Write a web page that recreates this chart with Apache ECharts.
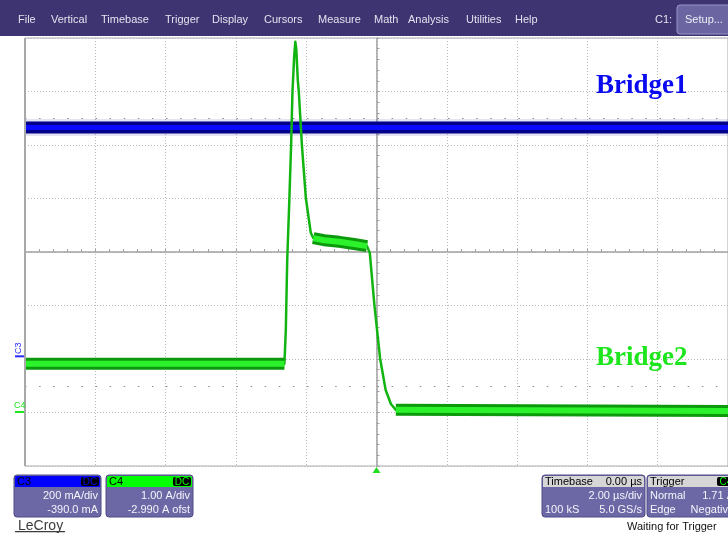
<!DOCTYPE html>
<html>
<head>
<meta charset="utf-8">
<script src="https://cdn.jsdelivr.net/npm/echarts@6/dist/echarts.min.js"></script>
<style>
html,body{margin:0;padding:0;background:#fff;overflow:hidden}
#main{width:728px;height:533px}
</style>
</head>
<body>
<div id="main"></div>
<script>
// ---- Timebase: 2.00 µs/div, trigger at 0 µs ----
const timeMin = -10;
const timeMax = 10;
const timePerDiv = 2;
const halfDivs = 4;

// ---- C3 (Bridge1): 200 mA/div, -390.0 mA offset ----
const c3PerDiv = 200;
const c3Offset = -390;
const c3Time = [-10, 10];
const c3mA = [855, 855];

// ---- C4 (Bridge2): 1.00 A/div, -2.990 A offset ----
const c4PerDiv = 1.0;
const c4Offset = -2.99;
const c4Time = [-10, -2.62, -2.58, -2.54, -2.48, -2.43, -2.39, -2.34, -2.31, -2.28, -2.24, -2.21,
                -2.12, -2.01, -1.87, -1.80, -1.49, -1.06, -0.64, -0.27, -0.19, -0.06, 0.10, 0.26,
                0.41, 0.55, 10];
const c4Amps = [0.90, 0.90, 1.53, 2.84, 3.96, 4.97, 6.00, 6.67, 6.92, 6.77, 6.21, 5.98,
                4.97, 4.00, 3.35, 3.25, 3.21, 3.18, 3.14, 3.10, 2.97, 2.00, 1.01, 0.41,
                0.15, 0.04, 0.02];
// 1 where the current has settled (noise band visible), 0 on the edges
const c4Settled = [1, 1, 0, 0, 0, 0, 0, 0, 0, 0, 0, 0,
                   0, 0, 0, 1, 1, 1, 1, 1, 0, 0, 0, 0,
                   0, 1, 1];

// ---- Menu and readouts ----
const menuItems = ['File', 'Vertical', 'Timebase', 'Trigger', 'Display', 'Cursors', 'Measure', 'Math', 'Analysis', 'Utilities', 'Help'];
const c3Readout = ['200 mA/div', '-390.0 mA'];
const c4Readout = ['1.00 A/div', '-2.990 A ofst'];
const timebaseReadout = { head: '0.00 µs', perDiv: '2.00 µs/div', samples: '100 kS', rate: '5.0 GS/s' };
const triggerReadout = { mode: 'Normal', level: '1.71 A', type: 'Edge', slope: 'Negative', source: 'C4' };

// Channel axis ranges follow from amps/div and offset
const c3Min = -halfDivs * c3PerDiv - c3Offset;
const c3Max = halfDivs * c3PerDiv - c3Offset;
const c4Min = -halfDivs * c4PerDiv - c4Offset;
const c4Max = halfDivs * c4PerDiv - c4Offset;

const c3Data = c3Time.map((t, i) => [t, c3mA[i]]);
const c4Data = c4Time.map((t, i) => [t, c4Amps[i]]);
const c4Band = c4Time.map((t, i) => c4Settled[i] ? [t, c4Amps[i]] : [t, null]);

const chart = echarts.init(document.getElementById('main'), null, { renderer: 'canvas' });

const gridColor = '#b9b9b9';
const axisColor = '#a2a2a2';

function lineSeries(name, data, yIdx, color, width, opacity, z) {
  return {
    name, type: 'line', data, xAxisIndex: 0, yAxisIndex: yIdx,
    symbol: 'none', silent: true, animation: false, connectNulls: false,
    lineStyle: { color, width, opacity: opacity, cap: 'butt', join: 'round' },
    z
  };
}

chart.setOption({
  animation: false,
  backgroundColor: '#ffffff',
  grid: {
    left: 25, top: 38, width: 705, height: 428,
    show: true, borderColor: '#aaaaaa', borderWidth: 1, backgroundColor: 'transparent'
  },
  xAxis: {
    type: 'value', min: timeMin, max: timeMax, interval: timePerDiv,
    axisLine: { show: true, onZero: true, onZeroAxisIndex: 0, lineStyle: { color: axisColor, width: 1.5 } },
    axisTick: { show: true, inside: true, length: 3, lineStyle: { color: axisColor } },
    minorTick: { show: true, splitNumber: 5, length: 3, lineStyle: { color: axisColor } },
    axisLabel: { show: false },
    splitLine: { show: true, lineStyle: { color: gridColor, type: [1, 2], width: 1 } }
  },
  yAxis: [
    {
      type: 'value', min: -halfDivs, max: halfDivs, interval: 1,
      axisLine: { show: true, onZero: true, lineStyle: { color: axisColor, width: 1.5 } },
      axisTick: { show: true, inside: true, length: 3, lineStyle: { color: axisColor } },
      minorTick: { show: true, splitNumber: 5, length: 3, lineStyle: { color: axisColor } },
      axisLabel: { show: false },
      splitLine: { show: true, lineStyle: { color: gridColor, type: [1, 2], width: 1 } }
    },
    { type: 'value', min: c4Min, max: c4Max, show: false, splitLine: { show: false } },
    { type: 'value', min: c3Min, max: c3Max, show: false, splitLine: { show: false } }
  ],
  series: [
    lineSeries('C3 spikes', c3Data, 2, '#3a3aa8', 17, 0.14, 1),
    {
      name: 'marks', type: 'line', data: [], yAxisIndex: 0, silent: true, z: 2,
      markLine: {
        silent: true, symbol: ['none', 'none'], label: { show: false },
        lineStyle: { color: '#8a8a8a', width: 1.2, type: [1.5, 12.6] },
        data: [{ yAxis: 2.5 }, { yAxis: -2.5 }]
      }
    },
    lineSeries('C3 band', c3Data, 2, '#000088', 12, 1, 4),
    lineSeries('C3', c3Data, 2, '#0a0aff', 5, 1, 5),
    lineSeries('C4', c4Data, 1, '#12b412', 2.5, 1, 6),
    lineSeries('C4 band', c4Band, 1, '#0c9a0c', 12, 1, 7),
    lineSeries('C4 core', c4Band, 1, '#2cf22c', 6, 1, 8)
  ]
});

// ---- Screen chrome ----
const sans = '"Liberation Sans", Arial, sans-serif';
const font11 = '11px ' + sans;
const serifBold = 'bold 27px "Liberation Serif", "Times New Roman", serif';
const g = [];

// menu bar
g.push({ type: 'rect', shape: { x: 0, y: 0, width: 728, height: 36 }, style: { fill: '#3d3471' }, z: 100 });
const menuX = [18, 51, 101, 165, 212, 264, 318, 374, 408, 466, 515];
menuItems.forEach((m, i) => g.push({
  type: 'text', x: menuX[i], y: 20, z: 101,
  style: { text: m, font: font11, fill: '#e4e2ee', verticalAlign: 'middle' }
}));
g.push({ type: 'text', x: 655, y: 20, z: 101, style: { text: 'C1:', font: font11, fill: '#e4e2ee', verticalAlign: 'middle' } });
g.push({ type: 'rect', shape: { x: 677, y: 5, width: 60, height: 29, r: 3 }, style: { fill: '#6b65a2', stroke: '#9a95c6', lineWidth: 1 }, z: 101 });
g.push({ type: 'text', x: 685, y: 20, z: 102, style: { text: 'Setup...', font: font11, fill: '#f0f0f6', verticalAlign: 'middle' } });

// thicker left frame edge
g.push({ type: 'rect', shape: { x: 24, y: 38, width: 2, height: 428 }, style: { fill: '#a8a8a8' }, z: 90 });

// descriptor boxes
function descBox(x, w, headFill, headLeft, headLeftColor, headRight, badge, badgeColor, rows) {
  const y = 475, hh = 12, bh = 30;
  g.push({ type: 'rect', shape: { x, y, width: w, height: hh + bh, r: 3 }, style: { fill: '#6c68a6', stroke: '#4e4a86', lineWidth: 1 }, z: 100 });
  g.push({ type: 'rect', shape: { x: x + 1, y: y + 1, width: w - 2, height: hh - 1, r: [2, 2, 0, 0] }, style: { fill: headFill }, z: 101 });
  g.push({ type: 'text', x: x + 3, y: y + 7, z: 102, style: { text: headLeft, font: font11, fill: headLeftColor, verticalAlign: 'middle' } });
  if (headRight) {
    g.push({ type: 'text', x: x + w - 3, y: y + 7, z: 102, style: { text: headRight, font: font11, fill: '#000', align: 'right', verticalAlign: 'middle' } });
  }
  if (badge) {
    const bw = 18;
    g.push({ type: 'rect', shape: { x: x + w - bw - 2, y: y + 2, width: bw, height: hh - 3, r: 2 }, style: { fill: '#000' }, z: 102 });
    g.push({ type: 'text', x: x + w - 2 - bw / 2, y: y + 7, z: 103, style: { text: badge, font: '10px ' + sans, fill: badgeColor, align: 'center', verticalAlign: 'middle' } });
  }
  rows.forEach((r, i) => {
    const ry = y + hh + 9 + i * 14;
    if (r[0]) g.push({ type: 'text', x: x + 3, y: ry, z: 102, style: { text: r[0], font: font11, fill: '#f4f4fa', verticalAlign: 'middle' } });
    if (r[1]) g.push({ type: 'text', x: x + w - 3, y: ry, z: 102, style: { text: r[1], font: font11, fill: '#f4f4fa', align: 'right', verticalAlign: 'middle' } });
  });
}
descBox(14, 87, '#0000ff', 'C3', '#000', null, 'DC', '#0000ff', [[null, c3Readout[0]], [null, c3Readout[1]]]);
descBox(106, 87, '#00ff00', 'C4', '#000', null, 'DC', '#00ff00', [[null, c4Readout[0]], [null, c4Readout[1]]]);
descBox(542, 103, '#d6d6d6', 'Timebase', '#000', timebaseReadout.head, null, null,
  [[null, timebaseReadout.perDiv], [timebaseReadout.samples, timebaseReadout.rate]]);
descBox(647, 90, '#d6d6d6', 'Trigger', '#000', null, triggerReadout.source, '#00ff00',
  [[triggerReadout.mode, triggerReadout.level], [triggerReadout.type, triggerReadout.slope]]);

g.push({ type: 'text', x: 627, y: 527, z: 100, style: { text: 'Waiting for Trigger', font: font11, fill: '#111', verticalAlign: 'middle' } });

// LeCroy logo
g.push({ type: 'text', x: 18, y: 526, z: 100, style: { text: 'LeCroy', font: '14px ' + sans, fill: '#3c3c3c', verticalAlign: 'middle' } });
g.push({ type: 'rect', shape: { x: 15, y: 531, width: 50, height: 1.2 }, style: { fill: '#3c3c3c' }, z: 100 });

// trace names
g.push({ type: 'text', x: 596, y: 86, z: 60, style: { text: 'Bridge1', font: serifBold, fill: '#0a0af0', verticalAlign: 'middle' } });
g.push({ type: 'text', x: 596, y: 358, z: 60, style: { text: 'Bridge2', font: serifBold, fill: '#1ee61e', verticalAlign: 'middle' } });

// ground markers and trigger position from the axes
const c3Zero = chart.convertToPixel({ yAxisIndex: 2 }, 0);
const c4Zero = chart.convertToPixel({ yAxisIndex: 1 }, 0);
const trigX = chart.convertToPixel({ xAxisIndex: 0 }, 0);
const plotBottom = 38 + 428;

g.push({ type: 'rect', shape: { x: 15, y: c3Zero - 1, width: 9, height: 2 }, style: { fill: '#2a2aff' }, z: 100 });
g.push({ type: 'text', x: 19, y: c3Zero - 8, rotation: Math.PI / 2, z: 100,
  style: { text: 'C3', font: '9px ' + sans, fill: '#2a2aff', align: 'center', verticalAlign: 'middle' } });
g.push({ type: 'rect', shape: { x: 15, y: c4Zero - 1, width: 9, height: 2 }, style: { fill: '#1ee61e' }, z: 100 });
g.push({ type: 'text', x: 14, y: c4Zero - 6, z: 100,
  style: { text: 'C4', font: '9px ' + sans, fill: '#1ee61e', verticalAlign: 'middle' } });

g.push({ type: 'polygon', shape: { points: [[trigX, plotBottom + 1], [trigX - 4, plotBottom + 7], [trigX + 4, plotBottom + 7]] },
  style: { fill: '#22dd22' }, z: 100 });

chart.setOption({ graphic: g });
</script>
</body>
</html>
